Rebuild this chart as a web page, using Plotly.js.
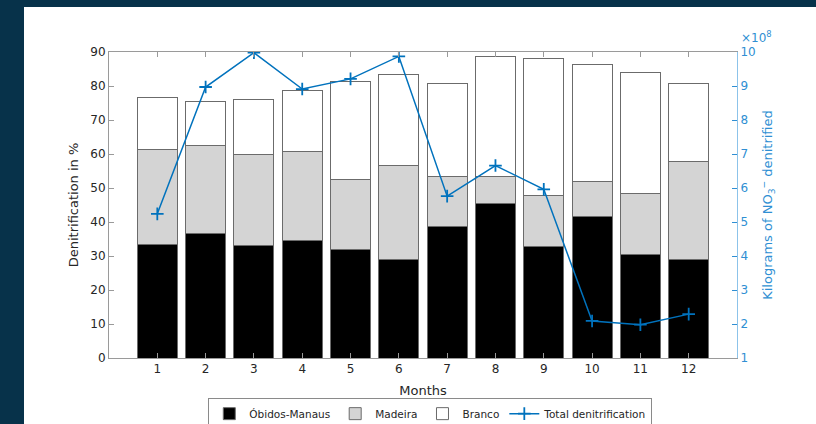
<!DOCTYPE html>
<html>
<head>
<meta charset="utf-8">
<script src="https://cdn.plot.ly/plotly-3.0.1.min.js"></script>
<style>
  html, body { margin:0; padding:0; width:816px; height:424px; background:#07324a; overflow:hidden; }
  #chart { position:absolute; left:24px; top:7px; width:792px; height:417px; background:#ffffff; }
</style>
</head>
<body>
<div id="chart"></div>
<script>
const months = [1,2,3,4,5,6,7,8,9,10,11,12];
const monthLabels = ['1','2','3','4','5','6','7','8','9','10','11','12'];
const obidosManaus = [33.3, 36.5, 33.0, 34.5, 31.9, 29.0, 38.6, 45.3, 32.7, 41.6, 30.5, 29.0];
const madeira =      [28.1, 26.0, 27.0, 26.1, 20.7, 27.5, 14.7,  8.0, 15.2, 10.3, 17.9, 28.9];
const branco =       [15.2, 12.9, 16.0, 18.2, 28.8, 27.0, 27.5, 35.5, 40.2, 34.3, 35.6, 22.9];
const totalDenitrification = [5.24, 8.97, 9.98, 8.91, 9.21, 9.87, 5.76, 6.66, 5.96, 2.09, 1.98, 2.29];

const edge = {color:'#6b6b6b', width:1};
const blue = '#0072BD';
const axisBlue = '#2f8fd3';

const traces = [
  {type:'bar', x:months, y:obidosManaus, name:'Óbidos-Manaus', marker:{color:'#000000', line:edge}},
  {type:'bar', x:months, y:madeira, name:'Madeira', marker:{color:'#d4d4d4', line:edge}},
  {type:'bar', x:months, y:branco, name:'Branco', marker:{color:'#ffffff', line:edge}},
  {type:'scatter', mode:'lines+markers', x:months, y:totalDenitrification, yaxis:'y2',
   name:'Total denitrification', line:{color:blue, width:1.5},
   marker:{symbol:'cross-thin-open', size:9, color:blue, line:{color:blue, width:1.8}}}
];

const layout = {
  width:792, height:417,
  margin:{l:85, r:79, t:45, b:66, autoexpand:false},
  paper_bgcolor:'#ffffff', plot_bgcolor:'#ffffff',
  font:{family:'DejaVu Sans, sans-serif', size:12, color:'#262626'},
  barmode:'stack', bargap:0.17,
  showlegend:true,
  legend:{orientation:'h', xref:'container', yref:'container', x:0.513, xanchor:'center', y:0.062, yanchor:'top',
          bordercolor:'#8a8a8a', borderwidth:1, bgcolor:'#ffffff',
          font:{size:10.5, color:'#262626'}, traceorder:'normal', itemwidth:30},
  xaxis:{range:[0,13], tickvals:months, ticktext:monthLabels, ticks:'inside', ticklen:5,
         tickcolor:'#9a9a9a', showline:true, linecolor:'#9a9a9a', linewidth:1, mirror:'ticks',
         showgrid:false, zeroline:false, tickfont:{size:12},
         title:{text:'Months', font:{size:13}, standoff:10}},
  yaxis:{range:[0,90], dtick:10, ticks:'inside', ticklen:5, tickcolor:'#9a9a9a',
         showline:true, linecolor:'#9a9a9a', linewidth:1, showgrid:false, zeroline:false,
         title:{text:'Denitrification in %', font:{size:13}, standoff:8}},
  yaxis2:{overlaying:'y', side:'right', range:[1,10], dtick:1, ticks:'inside', ticklen:5,
          tickcolor:axisBlue, showline:true, linecolor:'#8cc3ea', linewidth:1,
          showgrid:false, zeroline:false, tickfont:{color:axisBlue, size:12},
          title:{text:'Kilograms of NO<sub>3</sub><sup>−</sup> denitrified', font:{color:axisBlue, size:13}, standoff:8}},
  annotations:[{xref:'paper', yref:'paper', x:1.003, y:1.05, xanchor:'left', yanchor:'middle',
                text:'×10<sup>8</sup>', showarrow:false, font:{color:axisBlue, size:12}}]
};

Plotly.newPlot('chart', traces, layout, {displayModeBar:false, staticPlot:true});
</script>
</body>
</html>
